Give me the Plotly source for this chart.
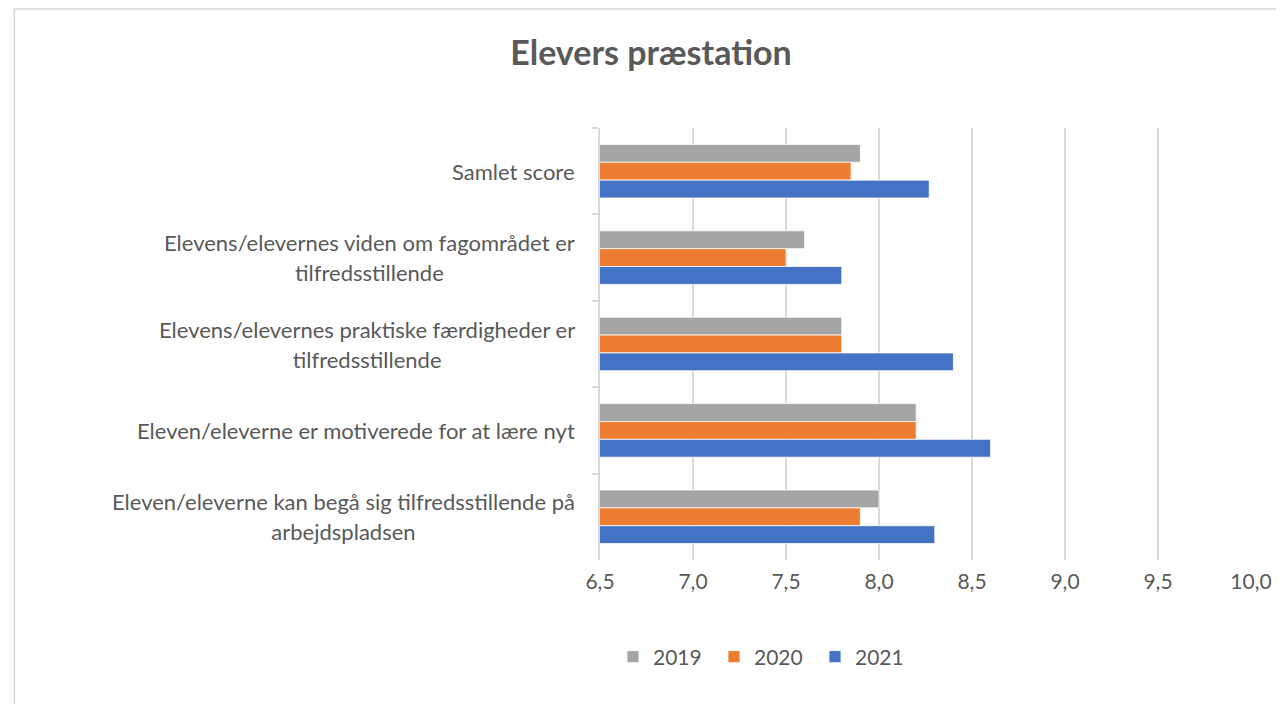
import plotly.graph_objects as go

categories = [
    "Samlet score",
    "Elevens/elevernes viden om fagområdet er<br>tilfredsstillende",
    "Elevens/elevernes praktiske færdigheder er<br>tilfredsstillende",
    "Eleven/eleverne er motiverede for at lære nyt",
    "Eleven/eleverne kan begå sig tilfredsstillende på<br>arbejdspladsen",
]
series_names = ["2019", "2020", "2021"]
values_2019 = [7.9, 7.6, 7.8, 8.2, 8.0]
values_2020 = [7.85, 7.5, 7.8, 8.2, 7.9]
values_2021 = [8.27, 7.8, 8.4, 8.6, 8.3]
colors = ["#A5A5A5", "#ED7D31", "#4472C4"]
x_ticks = [6.5, 7.0, 7.5, 8.0, 8.5, 9.0, 9.5, 10.0]

FONT = "Lato, Carlito, Calibri, sans-serif"
TXT = "#595959"
GRID = "#D9D9D9"

# page body has an 8px margin; work in figure coordinates (reference px - 8)
OFF = 8
W, H = 1284 - OFF, 704 - OFF
L, R, T, B = 600 - OFF, 27, 128 - OFF, 144
pw, ph = W - L - R, H - T - B

fig = go.Figure()
for name, vals, col in zip(series_names, [values_2019, values_2020, values_2021], colors):
    fig.add_trace(go.Bar(
        y=categories, x=vals, name=name, orientation="h",
        marker=dict(color=col, line=dict(color="white", width=0.8)),
        hoverinfo="x+name",
    ))

def px_x(p):
    return (p - OFF - L) / pw

def px_y(p):
    return (H - B - (p - OFF)) / ph

annotations = []
for cat in categories:
    lines = cat.split("<br>")
    txt = "<br>".join(f'<span style="font-size:22px">{ln}</span>' for ln in lines)
    annotations.append(dict(
        x=px_x(577), xref="paper", xanchor="right",
        y=cat, yref="y", yanchor="middle",
        text=txt, align="center", showarrow=False,
        font=dict(family=FONT, size=23, color=TXT),
    ))

fig.update_layout(
    width=W, height=H,
    margin=dict(l=L, r=R, t=T, b=B),
    paper_bgcolor="white", plot_bgcolor="white",
    separators=",.",
    barmode="group", bargap=0.38, bargroupgap=0,
    font=dict(family=FONT, size=21, color=TXT),
    title=dict(
        text="<b>Elevers præstation</b>",
        x=(651 - OFF) / W, xref="container", xanchor="center",
        y=1 - (53 - OFF) / H, yref="container", yanchor="middle",
        font=dict(family=FONT, size=34, color=TXT),
    ),
    xaxis=dict(
        range=[6.5, 10.0], tickvals=x_ticks, tickformat=".1f",
        showgrid=True, gridcolor=GRID, gridwidth=1.5,
        zeroline=False, showline=False, ticks="",
        ticklabelstandoff=7,
        tickfont=dict(family=FONT, size=21, color=TXT),
        fixedrange=True,
    ),
    yaxis=dict(
        autorange="reversed", showticklabels=False,
        showline=True, linecolor=GRID, linewidth=1.5,
        ticks="outside", tickson="boundaries", ticklen=6, tickcolor=GRID, tickwidth=1.5,
        showgrid=False, zeroline=False, fixedrange=True,
    ),
    legend=dict(
        orientation="h", x=px_x(766), xanchor="center",
        y=px_y(657), yanchor="middle",
        entrywidth=56, entrywidthmode="pixels",
        font=dict(family=FONT, size=21, color=TXT),
        itemclick=False, itemdoubleclick=False,
    ),
    annotations=annotations,
    shapes=[dict(
        type="rect", xref="paper", yref="paper",
        x0=px_x(OFF + 1), x1=px_x(1320), y0=px_y(740), y1=px_y(OFF + 1),
        line=dict(color=GRID, width=1.5), fillcolor="rgba(0,0,0,0)", layer="below",
    )],
)

fig.write_html("out.html")
